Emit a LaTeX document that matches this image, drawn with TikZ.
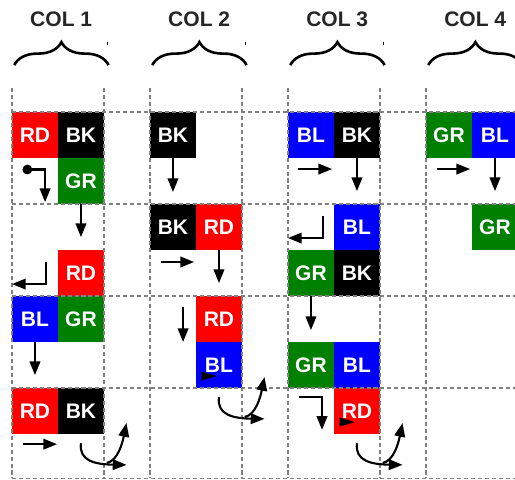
\documentclass[tikz,border=0pt]{standalone}
\usepackage{fontspec}
\setmainfont{Liberation Sans}
\usetikzlibrary{arrows.meta,decorations.pathreplacing}

\tikzset{
  blk/.style={rectangle, minimum size=1cm, inner sep=0pt, outer sep=0pt, text=white, font=\bfseries\fontsize{13}{13}\selectfont},
  rdbox/.style={blk, fill=red},
  bkbox/.style={blk, fill=black},
  grbox/.style={blk, fill={rgb,255:red,0;green,128;blue,0}},
  blbox/.style={blk, fill=blue},
  gridline/.style={black!50, line width=0.7pt, dash pattern=on 2.5pt off 1.8pt},
  arr/.style={line width=1.3pt, -{Triangle[length=8.5pt,width=6.5pt]}},
  colbrace/.style={line width=1.6pt, decorate, decoration={brace, amplitude=0.5cm}},
  coltitle/.style={text=black!85, font=\bfseries\fontsize{13}{13}\selectfont}
}

\begin{document}
\begin{tikzpicture}[x=1cm,y=1cm]
\useasboundingbox (-0.26,2.435) rectangle (10.935,-7.978);

% column titles
\foreach \c in {1,...,4}{
  \pgfmathsetmacro{\gx}{3*(\c-1)}
  \node[coltitle] (t\c) at (\gx+1.07,2.02) {COL \c};
  \draw[colbrace] (\gx+0.05,1.02) -- (\gx+2.1,1.02);
  \draw[line width=0.6pt] (\gx+2.08,1.53) -- (\gx+2.08,1.46);
}

% column 1
\node[rdbox] (c1rd1) at (0.5,-0.5) {RD};
\node[bkbox] (c1bk1) at (1.5,-0.5) {BK};
\node[grbox] (c1gr1) at (1.5,-1.5) {GR};
\node[rdbox] (c1rd2) at (1.5,-3.5) {RD};
\node[blbox] (c1bl3) at (0.5,-4.5) {BL};
\node[grbox] (c1gr3) at (1.5,-4.5) {GR};
\node[rdbox] (c1rd4) at (0.5,-6.5) {RD};
\node[bkbox] (c1bk4) at (1.5,-6.5) {BK};

% column 2
\node[bkbox] (c2bk1) at (3.5,-0.5) {BK};
\node[bkbox] (c2bk2) at (3.5,-2.5) {BK};
\node[rdbox] (c2rd2) at (4.5,-2.5) {RD};
\node[rdbox] (c2rd3) at (4.5,-4.5) {RD};
\node[blbox] (c2bl3) at (4.5,-5.5) {BL};

% column 3
\node[blbox] (c3bl1) at (6.5,-0.5) {BL};
\node[bkbox] (c3bk1) at (7.5,-0.5) {BK};
\node[blbox] (c3bl2) at (7.5,-2.5) {BL};
\node[grbox] (c3gr2) at (6.5,-3.5) {GR};
\node[bkbox] (c3bk2) at (7.5,-3.5) {BK};
\node[grbox] (c3gr3) at (6.5,-5.5) {GR};
\node[blbox] (c3bl3) at (7.5,-5.5) {BL};
\node[rdbox] (c3rd3) at (7.5,-6.5) {RD};

% column 4
\node[grbox] (c4gr1) at (9.5,-0.5) {GR};
\node[blbox] (c4bl1) at (10.5,-0.5) {BL};
\node[grbox] (c4gr2) at (10.5,-2.5) {GR};

% grid
\foreach \x in {0,2,3,5,6,8,9}
  \draw[gridline] (\x,0.52) -- (\x,-7.96);
\foreach \y in {0,-2,-4,-6,-7.96}
  \draw[gridline] (0,\y) -- (10.95,\y);

% free ends
\coordinate (c1s) at (0.23,-1.25);
\coordinate (c1k) at (0.72,-1.25);
\coordinate (c1e) at (0.72,-1.96);
\coordinate (c1d1) at (1.5,-2.72);
\coordinate (c1u) at (0.74,-3.26);
\coordinate (c1uk) at (0.74,-3.74);
\coordinate (c1ue) at (0,-3.74);
\coordinate (c1d3) at (0.5,-5.72);
\coordinate (c1r4s) at (0.24,-7.22);
\coordinate (c1r4e) at (0.98,-7.22);

\coordinate (c2d1) at (3.5,-1.74);
\coordinate (c2r2s) at (3.24,-3.26);
\coordinate (c2r2e) at (3.96,-3.26);
\coordinate (c2d2) at (4.5,-3.72);
\coordinate (c2d3s) at (3.72,-4.24);
\coordinate (c2d3e) at (3.72,-5.0);

\coordinate (c3r1s) at (6.22,-1.24);
\coordinate (c3r1e) at (6.96,-1.24);
\coordinate (c3d1) at (7.5,-1.72);
\coordinate (c3u) at (6.76,-2.26);
\coordinate (c3uk) at (6.76,-2.74);
\coordinate (c3ue) at (6.0,-2.74);
\coordinate (c3d2) at (6.5,-4.74);
\coordinate (c3ts) at (6.24,-6.2);
\coordinate (c3tk) at (6.74,-6.2);
\coordinate (c3te) at (6.74,-6.91);

\coordinate (c4r1s) at (9.24,-1.24);
\coordinate (c4r1e) at (9.96,-1.24);
\coordinate (c4d1) at (10.5,-1.72);

% moves
\draw[arr, {Circle[length=6pt]}-{Triangle[length=8.5pt,width=6.5pt]}] (c1s) -- (c1k) -- (c1e);
\draw[arr] (c1gr1.south) -- (c1d1);
\draw[arr] (c1u) -- (c1uk) -- (c1ue);
\draw[arr] (c1bl3.south) -- (c1d3);
\draw[arr] (c1r4s) -- (c1r4e);

\draw[arr] (c2bk1.south) -- (c2d1);
\draw[arr] (c2r2s) -- (c2r2e);
\draw[arr] (c2rd2.south) -- (c2d2);
\draw[arr] (c2d3s) -- (c2d3e);

\draw[arr] (c3r1s) -- (c3r1e);
\draw[arr] (c3bk1.south) -- (c3d1);
\draw[arr] (c3u) -- (c3uk) -- (c3ue);
\draw[arr] (c3gr2.south) -- (c3d2);
\draw[arr] (c3ts) -- (c3tk) -- (c3te);

\draw[arr] (c4r1s) -- (c4r1e);
\draw[arr] (c4bl1.south) -- (c4d1);

% small tips
\fill (4.12,-5.64) -- (4.45,-5.74) -- (4.12,-5.84) -- cycle;
\fill (7.12,-6.64) -- (7.45,-6.74) -- (7.12,-6.84) -- cycle;

% rotations
\foreach \dx/\dy/\c in {0/0/1,3/1/2,6/0/3}{
  \begin{scope}[shift={(\dx,\dy)}]
    \coordinate (rot\c a) at (1.5,-7.2);
    \coordinate (rot\c b) at (2.49,-7.67);
    \coordinate (rot\c c) at (2.06,-7.63);
    \coordinate (rot\c d) at (2.49,-6.76);
    \draw[arr] (rot\c a) .. controls (1.45,-7.58) and (1.8,-7.66) .. (rot\c b);
    \draw[arr] (rot\c c) .. controls (2.3,-7.58) and (2.4,-7.2) .. (rot\c d);
  \end{scope}
}
\end{tikzpicture}
\end{document}
